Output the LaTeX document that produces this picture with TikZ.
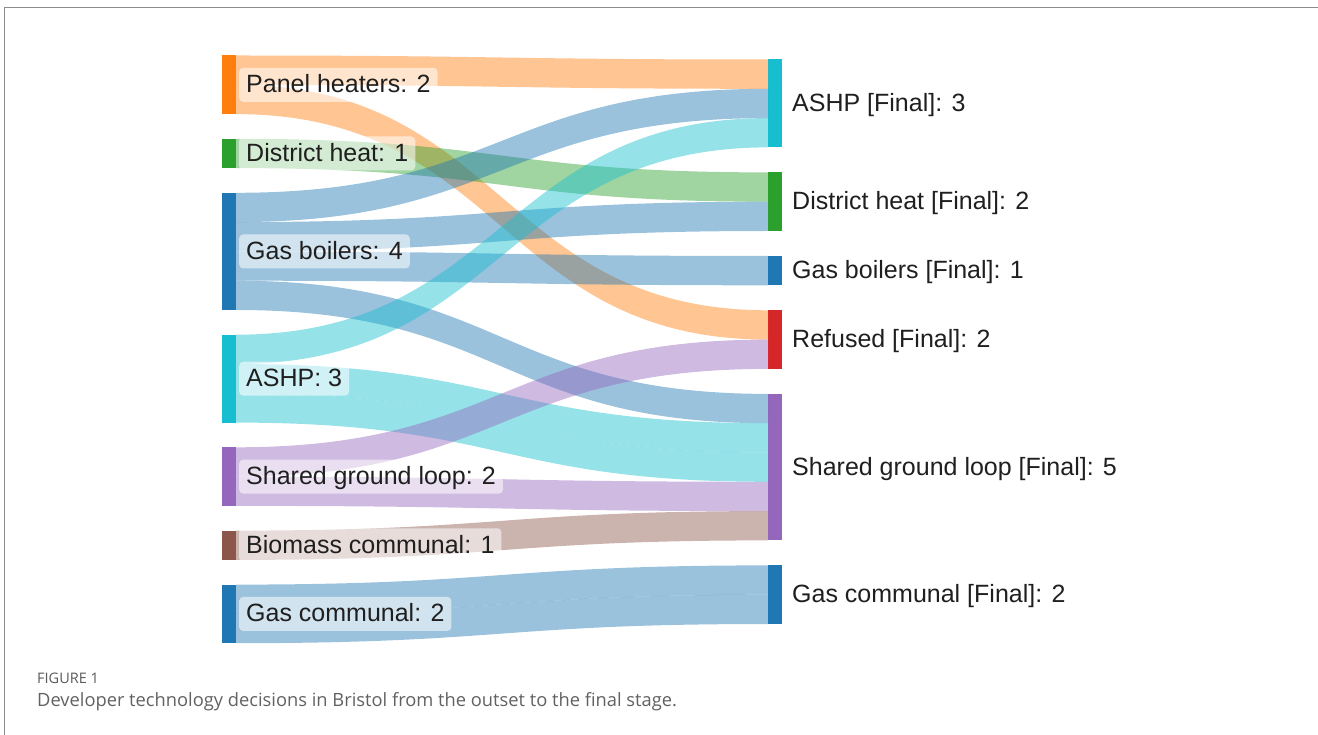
\documentclass[tikz,border=0pt]{standalone}
\usepackage{fontspec}
\setmainfont{Liberation Sans}
\newfontfamily\capfont{Open Sans}
\usetikzlibrary{positioning,calc}

% Цвета (палитра Plotly)
\definecolor{pblue}{HTML}{1F77B4}
\definecolor{porange}{HTML}{FF7F0E}
\definecolor{pgreen}{HTML}{2CA02C}
\definecolor{pred}{HTML}{D62728}
\definecolor{ppurple}{HTML}{9467BD}
\definecolor{pbrown}{HTML}{8C564B}
\definecolor{pcyan}{HTML}{17BECF}

% Высота одной единицы потока
\def\un{29.3pt}

% Поток: узел-источник, сдвиг, узел-цель, сдвиг, величина, цвет
\newcommand\flow[6]{%
  \fill[#6, fill opacity=.45]
    let \p1=(#1.north east), \p2=(#3.north west), \p3=($(\p1)!.5!(\p2)$) in
    (\x1,\y1-#2*\un) .. controls (\x3,\y1-#2*\un) and (\x3,\y2-#4*\un) .. (\x2,\y2-#4*\un)
    -- (\x2,\y2-#4*\un-#5*\un) .. controls (\x3,\y2-#4*\un-#5*\un) and (\x3,\y1-#2*\un-#5*\un) .. (\x1,\y1-#2*\un-#5*\un)
    -- cycle;}

\tikzset{
  bar/.style={rectangle, inner sep=0pt, outer sep=0pt, minimum width=14pt, anchor=north west},
  lab/.style={rectangle, rounded corners=4pt, fill=white, fill opacity=.55, text opacity=1,
    inner xsep=7pt, inner ysep=4pt, text height=21pt, text depth=5pt,
    font=\fontsize{25}{30}\selectfont, text=black!88},
  flab/.style={inner sep=0pt, text height=21pt, text depth=5pt,
    font=\fontsize{25}{30}\selectfont, text=black!88},
}

\begin{document}
\begin{tikzpicture}[x=1pt, y=-1pt]
    \useasboundingbox (0,0) rectangle (1318,735);

    % Рамка
    \draw[black!45, line width=1.3pt] (4.5,735) -- (4.5,7.5) -- (1318,7.5);

    % Узлы слева
    \node[bar, fill=porange, minimum height=2*\un] (ph) at (222,55.5) {};
    \node[bar, fill=pgreen,  minimum height=1*\un] (dh) at (222,138.8) {};
    \node[bar, fill=pblue,   minimum height=4*\un] (gb) at (222,192.8) {};
    \node[bar, fill=pcyan,   minimum height=3*\un] (as) at (222,334.7) {};
    \node[bar, fill=ppurple, minimum height=2*\un] (sg) at (222,447.3) {};
    \node[bar, fill=pbrown,  minimum height=1*\un] (bm) at (222,530.6) {};
    \node[bar, fill=pblue,   minimum height=2*\un] (gc) at (222,584.6) {};

    % Узлы справа
    \node[bar, fill=pcyan,   minimum height=3*\un] (asf) at (768,59.5) {};
    \node[bar, fill=pgreen,  minimum height=2*\un] (dhf) at (768,172.4) {};
    \node[bar, fill=pblue,   minimum height=1*\un] (gbf) at (768,256.0) {};
    \node[bar, fill=pred,    minimum height=2*\un] (rff) at (768,310.3) {};
    \node[bar, fill=ppurple, minimum height=5*\un] (sgf) at (768,393.9) {};
    \node[bar, fill=pblue,   minimum height=2*\un] (gcf) at (768,565.4) {};

    % Потоки
    \flow{ph}{0}{asf}{0}{1}{porange}
    \flow{ph}{1}{rff}{0}{1}{porange}
    \flow{dh}{0}{dhf}{0}{1}{pgreen}
    \flow{gb}{0}{asf}{1}{1}{pblue}
    \flow{gb}{1}{dhf}{1}{1}{pblue}
    \flow{gb}{2}{gbf}{0}{1}{pblue}
    \flow{gb}{3}{sgf}{0}{1}{pblue}
    \flow{as}{0}{asf}{2}{1}{pcyan}
    \flow{as}{1}{sgf}{1}{1}{pcyan}
    \flow{as}{2}{sgf}{2}{1}{pcyan}
    \flow{sg}{0}{rff}{1}{1}{ppurple}
    \flow{sg}{1}{sgf}{3}{1}{ppurple}
    \flow{bm}{0}{sgf}{4}{1}{pbrown}
    \flow{gc}{0}{gcf}{0}{1}{pblue}
    \flow{gc}{1}{gcf}{1}{1}{pblue}

    % Подписи слева
    \node[lab, right=3pt of ph] (phl) {Panel heaters: 2};
    \node[lab, right=3pt of dh] (dhl) {District heat: 1};
    \node[lab, right=3pt of gb] (gbl) {Gas boilers: 4};
    \node[lab, right=3pt of as] (asl) {ASHP: 3};
    \node[lab, right=3pt of sg] (sgl) {Shared ground loop: 2};
    \node[lab, right=3pt of bm] (bml) {Biomass communal: 1};
    \node[lab, right=3pt of gc] (gcl) {Gas communal: 2};

    % Подписи справа
    \node[flab, right=10pt of asf] (asfl) {ASHP [Final]: 3};
    \node[flab, right=10pt of dhf] (dhfl) {District heat [Final]: 2};
    \node[flab, right=10pt of gbf] (gbfl) {Gas boilers [Final]: 1};
    \node[flab, right=10pt of rff] (rffl) {Refused [Final]: 2};
    \node[flab, right=10pt of sgf] (sgfl) {Shared ground loop [Final]: 5};
    \node[flab, right=10pt of gcf] (gcfl) {Gas communal [Final]: 2};

    % Подпись к рисунку
    \node[anchor=base west, inner sep=0pt, text=black!65, font=\capfont\fontsize{14.5}{16}\selectfont] (fig) at (37,683.5) {FIGURE 1};
    \node[anchor=base west, inner sep=0pt, text=black!62, font=\capfont\fontsize{18.3}{20}\selectfont] (cap) at (37,706.5) {Developer technology decisions in Bristol from the outset to the final stage.};
\end{tikzpicture}
\end{document}
